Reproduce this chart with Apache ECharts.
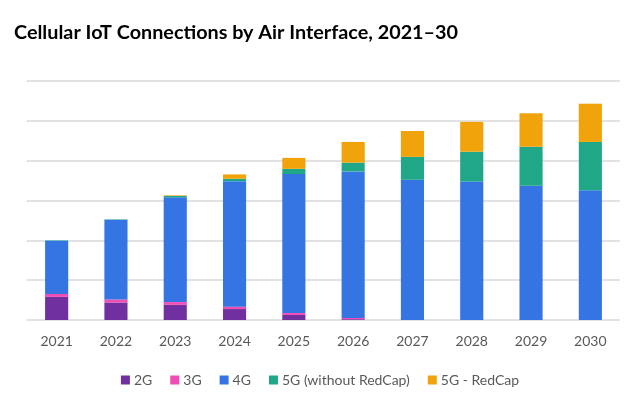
<!DOCTYPE html>
<html><head><meta charset="utf-8">
<script src="https://cdn.jsdelivr.net/npm/echarts@6/dist/echarts.min.js"></script>
<style>html,body{margin:0;padding:0;background:#fff}#c{width:640px;height:408px}</style>
</head><body><div id="c"></div>
<script>
var years = ['2021','2022','2023','2024','2025','2026','2027','2028','2029','2030'];
var s2G = [0.58, 0.44, 0.38, 0.275, 0.125, 0.02, 0, 0, 0, 0];
var s3G = [0.075, 0.075, 0.07, 0.06, 0.05, 0.03, 0, 0, 0, 0];
var s4G = [1.335, 2.0, 2.63, 3.15, 3.49, 3.68, 3.52, 3.475, 3.37, 3.26];
var s5G = [0.01, 0.01, 0.035, 0.06, 0.13, 0.22, 0.575, 0.75, 0.98, 1.21];
var s5GR = [0, 0, 0.015, 0.11, 0.275, 0.52, 0.65, 0.75, 0.84, 0.96];
var names = ['2G','3G','4G','5G (without RedCap)','5G - RedCap'];
var colors = ['#7030A0','#F04EB4','#3574E3','#1FA787','#F0A30A'];
var data = [s2G, s3G, s4G, s5G, s5GR];
var chart = echarts.init(document.getElementById('c'));
chart.setOption({
  animation: false,
  title: { text: 'Cellular IoT Connections by Air Interface, 2021\u201330', left: 9, top: 18,
    textStyle: { fontFamily: 'Lato', fontWeight: 'bold', fontSize: 19.8, color: '#000' } },
  legend: { bottom: 16, left: 'center', itemWidth: 9, itemHeight: 9, itemGap: 18, icon: 'rect',
    textStyle: { fontFamily: 'Lato', fontSize: 14, color: '#595959', padding: [0,0,0,-1] },
    data: names },
  grid: { left: 27, right: 20, top: 81, bottom: 88 },
  xAxis: { type: 'category', data: years,
    axisLine: { show: false }, axisTick: { show: false },
    axisLabel: { fontFamily: 'Lato', fontSize: 14, color: '#595959', margin: 14 } },
  yAxis: { type: 'value', min: 0, max: 6, interval: 1,
    axisLabel: { show: false }, axisLine: { show: false }, axisTick: { show: false },
    splitLine: { lineStyle: { color: '#d9d9d9', width: 1.5 } } },
  series: names.map(function (n, i) {
    return { name: n, type: 'bar', stack: 'all', data: data[i], barWidth: '39%',
      itemStyle: { color: colors[i] } };
  })
});
</script></body></html>
